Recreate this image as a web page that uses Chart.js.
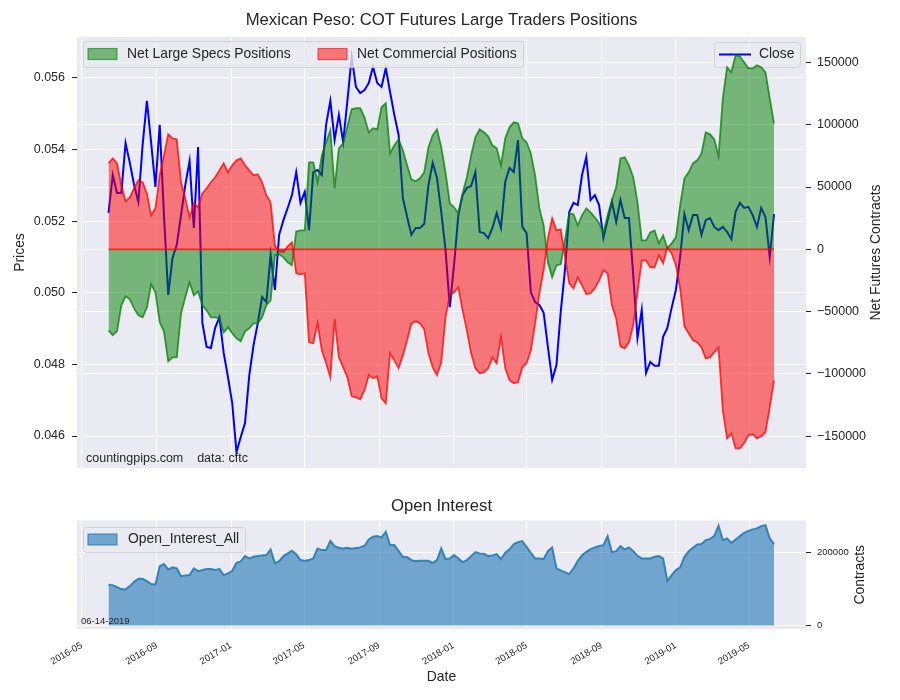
<!DOCTYPE html>
<html><head><meta charset="utf-8">
<script src="https://cdn.jsdelivr.net/npm/chart.js@4.4.0/dist/chart.umd.min.js"></script>
<style>
html,body{margin:0;padding:0;background:#fff;}
#wrap{position:relative;width:900px;height:700px;overflow:hidden;}
#c1{position:absolute;left:0;top:0;}
#c2{position:absolute;left:0;top:480px;}
</style></head><body>
<div id="wrap"><canvas id="c1" width="900" height="500"></canvas><canvas id="c2" width="900" height="220"></canvas></div>
<script>
const dates = [
'2016-06-14','2016-06-21','2016-06-28','2016-07-05','2016-07-12','2016-07-19','2016-07-26','2016-08-02','2016-08-09','2016-08-16',
'2016-08-23','2016-08-30','2016-09-06','2016-09-13','2016-09-20','2016-09-27','2016-10-04','2016-10-11','2016-10-18','2016-10-25',
'2016-11-01','2016-11-08','2016-11-15','2016-11-22','2016-11-29','2016-12-06','2016-12-13','2016-12-20','2016-12-27','2017-01-03',
'2017-01-10','2017-01-17','2017-01-24','2017-01-31','2017-02-07','2017-02-14','2017-02-21','2017-02-28','2017-03-07','2017-03-14',
'2017-03-21','2017-03-28','2017-04-04','2017-04-11','2017-04-18','2017-04-25','2017-05-02','2017-05-09','2017-05-16','2017-05-23',
'2017-05-30','2017-06-06','2017-06-13','2017-06-20','2017-06-27','2017-07-04','2017-07-11','2017-07-18','2017-07-25','2017-08-01',
'2017-08-08','2017-08-15','2017-08-22','2017-08-29','2017-09-05','2017-09-12','2017-09-19','2017-09-26','2017-10-03','2017-10-10',
'2017-10-17','2017-10-24','2017-10-31','2017-11-07','2017-11-14','2017-11-21','2017-11-28','2017-12-05','2017-12-12','2017-12-19',
'2017-12-26','2018-01-02','2018-01-09','2018-01-16','2018-01-23','2018-01-30','2018-02-06','2018-02-13','2018-02-20','2018-02-27',
'2018-03-06','2018-03-13','2018-03-20','2018-03-27','2018-04-03','2018-04-10','2018-04-17','2018-04-24','2018-05-01','2018-05-08',
'2018-05-15','2018-05-22','2018-05-29','2018-06-05','2018-06-12','2018-06-19','2018-06-26','2018-07-03','2018-07-10','2018-07-17',
'2018-07-24','2018-07-31','2018-08-07','2018-08-14','2018-08-21','2018-08-28','2018-09-04','2018-09-11','2018-09-18','2018-09-25',
'2018-10-02','2018-10-09','2018-10-16','2018-10-23','2018-10-30','2018-11-06','2018-11-13','2018-11-20','2018-11-27','2018-12-04',
'2018-12-11','2018-12-18','2018-12-25','2019-01-01','2019-01-08','2019-01-15','2019-01-22','2019-01-29','2019-02-05','2019-02-12',
'2019-02-19','2019-02-26','2019-03-05','2019-03-12','2019-03-19','2019-03-26','2019-04-02','2019-04-09','2019-04-16','2019-04-23',
'2019-04-30','2019-05-07','2019-05-14','2019-05-21','2019-05-28','2019-06-04','2019-06-11'];

const closePrices = [
0.05223,0.05329,0.05279,0.05279,0.05418,0.05363,0.05301,0.05254,0.05413,0.05536,
0.05418,0.05296,0.05469,0.05217,0.04994,0.05097,0.05134,0.05217,0.05301,0.05368,
0.05181,0.05407,0.04916,0.04849,0.04846,0.04902,0.04932,0.04832,0.04765,0.04692,
0.04555,0.04597,0.04636,0.04770,0.04854,0.04916,0.04988,0.04974,0.05106,0.05008,
0.05162,0.05203,0.05237,0.05273,0.05337,0.05251,0.05282,0.05175,0.05337,0.05343,
0.05329,0.05469,0.05536,0.05427,0.05497,0.05421,0.05536,0.05659,0.05575,0.05558,
0.05566,0.05586,0.05631,0.05586,0.05575,0.05628,0.05561,0.05497,0.05441,0.05265,
0.05212,0.05162,0.05181,0.05181,0.05192,0.05301,0.05363,0.05321,0.05226,0.05120,
0.04960,0.05078,0.05217,0.05273,0.05293,0.05298,0.05337,0.05170,0.05167,0.05153,
0.05181,0.05223,0.05181,0.05310,0.05349,0.05337,0.05427,0.05184,0.05167,0.05002,
0.04974,0.04966,0.04944,0.04849,0.04757,0.04798,0.04946,0.05064,0.05226,0.05251,
0.05245,0.05329,0.05379,0.05259,0.05273,0.05245,0.05153,0.05203,0.05254,0.05198,
0.05259,0.05209,0.05209,0.05050,0.04874,0.04952,0.04776,0.04807,0.04796,0.04796,
0.04877,0.04902,0.04958,0.05008,0.05100,0.05220,0.05175,0.05217,0.05217,0.05162,
0.05203,0.05209,0.05184,0.05175,0.05184,0.05170,0.05150,0.05226,0.05251,0.05237,
0.05240,0.05217,0.05184,0.05237,0.05212,0.05100,0.05220];

const netLargeSpecs = [
-65000,-69000,-65800,-44900,-37700,-40100,-47400,-53000,-54600,-46600,
-28100,-34500,-58600,-65800,-89900,-86700,-86700,-51400,-38500,-26500,
-36900,-33700,-44900,-49000,-54600,-54600,-55400,-66600,-62600,-67400,
-71400,-73800,-65800,-63400,-59400,-59400,-54600,-44900,-40900,-4800,
-4000,-6400,-10400,-12800,14400,15200,15200,69800,69800,53800,
75400,85900,95500,49000,81100,85100,98700,112400,113200,113200,
105900,93900,97100,96300,114000,117200,77000,83500,88300,79500,
67400,56200,54600,57000,61800,81900,91500,96300,81900,61800,
36900,33700,28900,44900,57800,75400,89900,96300,93900,90700,
83500,81100,67400,89100,97900,101900,101100,89100,85900,77000,
59400,32900,19300,-10400,-22500,-12800,-12000,7200,28900,28100,
19300,27300,32900,29700,25700,20900,13600,27300,39300,49800,
73000,73800,67400,57800,37700,7200,7200,13600,15200,4800,
11200,800,4800,9600,35300,57000,61800,69000,71400,77000,
93900,92300,88300,74600,121200,146100,142100,155700,154900,150100,
145300,145300,147700,146100,142100,121200,101100];

const netCommercial = [
69000,73000,69000,51400,38500,41700,49000,55400,53800,44900,
27300,32900,59400,75400,92300,89100,88300,53800,40900,25700,
36900,33700,44900,49000,53800,57800,63400,69000,61800,67400,
71400,73000,67400,63400,59400,60200,53800,43300,37700,3200,
-1600,-2400,2400,5600,-19300,-20100,-19300,-74600,-75400,-59400,
-81100,-91500,-102700,-56200,-86700,-94700,-102700,-118000,-118800,-120400,
-113200,-101100,-103500,-101900,-119600,-123600,-83500,-89100,-95500,-85100,
-73000,-59400,-57800,-59400,-64200,-83500,-94700,-101100,-90700,-54600,
-36900,-34500,-30500,-49000,-65000,-83500,-95500,-99500,-98700,-95500,
-86700,-91500,-70600,-95500,-105100,-107500,-106700,-94700,-91500,-81100,
-59400,-35300,-16900,8800,24900,15200,16100,-5600,-27300,-31300,
-22500,-28900,-36100,-35300,-31300,-24900,-16900,-19300,-44900,-55400,
-77900,-79500,-74600,-61000,-34500,-8800,-8800,-14400,-14400,-4800,
-11200,1600,-3200,-12800,-31300,-61800,-67400,-73000,-74600,-78700,
-87500,-86700,-82700,-78700,-129200,-151700,-147700,-159700,-159700,-155700,
-149300,-148500,-151700,-150100,-146900,-126800,-105100];

const openInterest = [
111900,111000,105500,100000,99200,108300,120100,128400,128400,122000,
113800,113000,163400,168900,154300,159800,157000,135800,137800,138600,
157000,149600,152400,155100,155100,152400,155900,138600,143300,150400,
172500,176300,190900,184600,189000,190900,192900,193700,209400,170800,
177100,190900,198400,205500,196400,179900,178000,179900,184600,212100,
207500,207500,233100,218500,213800,212100,213800,211000,213000,214900,
219300,236900,244100,246000,242400,257900,221200,221200,205500,189000,
188200,179900,177100,178000,178000,178000,172500,179900,212100,182700,
184600,193700,184600,174400,179900,190900,201900,198400,197300,190900,
192900,196400,182700,200000,209400,224000,229500,232200,216500,200000,
184600,184600,182700,204700,214900,157000,151500,146800,141300,157000,
178000,193700,202800,210200,214900,218500,221200,246000,201900,204700,
218500,209400,214900,204700,191700,184600,184600,184600,189000,190900,
184600,122900,138600,152400,159800,189000,204700,213800,223200,224000,
235000,237800,246800,274400,235000,239700,227600,236900,246000,255100,
260600,264500,267200,273600,276300,239700,224000];

const monthTicks = ['2016-05','2016-09','2017-01','2017-05','2017-09','2018-01','2018-05','2018-09','2019-01','2019-05'];
const priceTicks = [0.046,0.048,0.050,0.052,0.054,0.056];
const netTicks = [-150000,-100000,-50000,0,50000,100000,150000];
const oiTicks = [0,200000];

const DAY = 86400000;
function toDay(s){ const p = s.split('-').map(Number); return Date.UTC(p[0], p[1]-1, p[2] || 1) / DAY; }
const xs = dates.map(toDay);
const pts = arr => arr.map((v,i) => ({x: xs[i], y: v}));
const X_MIN = toDay('2016-04-23') + 0.3, X_MAX = toDay('2019-08-02') + 0.5;

const FONT = "'Liberation Sans', Arial, sans-serif";
const TXT = '#262626';
const BG = '#EAEAF2';

function txt(ctx, s, x, y, size, align, rot){
  ctx.save();
  ctx.font = size + 'px ' + FONT;
  ctx.fillStyle = TXT;
  ctx.textAlign = align || 'left';
  ctx.textBaseline = 'middle';
  ctx.translate(x, y);
  if (rot) ctx.rotate(rot);
  ctx.fillText(s, 0, 0);
  ctx.restore();
}
function legendBox(ctx, x, y, w, h){
  ctx.save();
  ctx.beginPath();
  if (ctx.roundRect) ctx.roundRect(x+0.5, y+0.5, w, h, 3); else ctx.rect(x+0.5, y+0.5, w, h);
  ctx.fillStyle = 'rgba(234,234,242,0.8)';
  ctx.fill();
  ctx.strokeStyle = 'rgba(204,204,204,0.8)';
  ctx.lineWidth = 1;
  ctx.stroke();
  ctx.restore();
}
function patch(ctx, x, y, w, h, fill, stroke){
  ctx.save();
  ctx.fillStyle = fill; ctx.fillRect(x, y, w, h);
  ctx.strokeStyle = stroke; ctx.lineWidth = 1.2; ctx.strokeRect(x, y, w, h);
  ctx.restore();
}
const bgPlugin = {
  id: 'bg',
  beforeDraw(chart){
    const a = chart.chartArea, ctx = chart.ctx;
    ctx.save(); ctx.fillStyle = BG; ctx.fillRect(a.left, a.top, a.right - a.left, a.bottom - a.top); ctx.restore();
  }
};
const monthTickBuilder = scale => { scale.ticks = monthTicks.map(m => ({value: toDay(m + '-01')})); };

const topDecor = {
  id: 'topDecor',
  afterDatasetDraw(chart, args){
    if (args.index !== 0) return;
    const ctx = chart.ctx;
    legendBox(ctx, 714, 42, 86, 25);
    ctx.save();
    ctx.strokeStyle = '#0000FF'; ctx.lineWidth = 2;
    ctx.beginPath(); ctx.moveTo(719, 54.5); ctx.lineTo(751, 54.5); ctx.stroke();
    ctx.restore();
    txt(ctx, 'Close', 759, 54.5, 13.9, 'left');
  },
  afterDatasetsDraw(chart){
    const ctx = chart.ctx, x = chart.scales.x, yN = chart.scales.yN;
    const y0 = yN.getPixelForValue(0);
    ctx.save();
    ctx.strokeStyle = 'rgba(255,0,0,0.75)'; ctx.lineWidth = 1.8;
    ctx.beginPath(); ctx.moveTo(x.getPixelForValue(xs[0]), y0); ctx.lineTo(x.getPixelForValue(xs[xs.length-1]), y0); ctx.stroke();
    ctx.restore();
    legendBox(ctx, 83, 41, 440, 26);
    patch(ctx, 88, 48.5, 29, 11, 'rgba(0,128,0,0.5)', 'rgba(0,128,0,0.6)');
    txt(ctx, 'Net Large Specs Positions', 127, 54.5, 13.9, 'left');
    patch(ctx, 318, 48.5, 29, 11, 'rgba(255,0,0,0.5)', 'rgba(255,0,0,0.6)');
    txt(ctx, 'Net Commercial Positions', 357, 54.5, 13.9, 'left');
    txt(ctx, 'countingpips.com    data: cftc', 86, 459, 12.5, 'left');
  },
  afterDraw(chart){
    const ctx = chart.ctx, a = chart.chartArea;
    txt(ctx, 'Mexican Peso: COT Futures Large Traders Positions', (a.left + a.right)/2, 20, 16.7, 'center');
    txt(ctx, 'Prices', 20, (a.top + a.bottom)/2, 13.9, 'center', -Math.PI/2);
    txt(ctx, 'Net Futures Contracts', 876, (a.top + a.bottom)/2, 13.9, 'center', -Math.PI/2);
  }
};

const bottomDecor = {
  id: 'bottomDecor',
  afterDatasetsDraw(chart){
    const ctx = chart.ctx;
    legendBox(ctx, 83, 47, 162, 25);
    patch(ctx, 88, 54, 29, 11, 'rgba(31,119,180,0.6)', 'rgba(31,119,180,0.7)');
    txt(ctx, 'Open_Interest_All', 128, 59.5, 13.9, 'left');
    txt(ctx, '06-14-2019', 81, 141, 9.5, 'left');
  },
  afterDraw(chart){
    const ctx = chart.ctx, a = chart.chartArea;
    txt(ctx, 'Open Interest', (a.left + a.right)/2, 26, 16.7, 'center');
    txt(ctx, 'Contracts', 860, (a.top + a.bottom)/2, 13.9, 'center', -Math.PI/2);
    txt(ctx, 'Date', (a.left + a.right)/2, 197, 13.9, 'center');
  }
};

const gridWhite = {color: '#FFFFFF', lineWidth: 1, drawTicks: false};

new Chart(document.getElementById('c1'), {
  type: 'line',
  data: { datasets: [
    {label: 'Close', data: pts(closePrices), yAxisID: 'yP', borderColor: '#0000FF', borderWidth: 2, pointRadius: 0, fill: false, tension: 0, order: 3},
    {label: 'Net Large Specs Positions', data: pts(netLargeSpecs), yAxisID: 'yN', borderColor: 'rgba(0,128,0,0.75)', backgroundColor: 'rgba(0,128,0,0.5)', borderWidth: 1.8, pointRadius: 0, fill: 'origin', tension: 0, order: 2},
    {label: 'Net Commercial Positions', data: pts(netCommercial), yAxisID: 'yN', borderColor: 'rgba(255,0,0,0.75)', backgroundColor: 'rgba(255,0,0,0.5)', borderWidth: 1.8, pointRadius: 0, fill: 'origin', tension: 0, order: 1}
  ]},
  options: {
    responsive: false, animation: false, events: [],
    layout: {padding: {top: 37, left: 0, right: 0, bottom: 0}},
    plugins: {legend: {display: false}, tooltip: {enabled: false}, title: {display: false}},
    scales: {
      x: {type: 'linear', position: 'bottom', min: X_MIN, max: X_MAX,
          afterBuildTicks: monthTickBuilder, afterFit(s){ s.height = 32; },
          ticks: {display: false}, grid: gridWhite, border: {display: false}},
      yP: {type: 'linear', position: 'left', min: 0.045107, max: 0.057145,
          afterBuildTicks(s){ s.ticks = priceTicks.map(v => ({value: v})); }, afterFit(s){ s.width = 77; },
          ticks: {callback: v => v.toFixed(3), font: {family: FONT, size: 12.5}, color: TXT, padding: 7},
          grid: {color: '#FFFFFF', lineWidth: 1, tickColor: TXT, tickLength: 5, drawTicks: true}, border: {display: false}},
      yN: {type: 'linear', position: 'right', min: -175500, max: 170400,
          afterBuildTicks(s){ s.ticks = netTicks.map(v => ({value: v})); }, afterFit(s){ s.width = 94; },
          ticks: {callback: v => v < 0 ? '\u2212' + Math.abs(v) : String(v), font: {family: FONT, size: 12.5}, color: TXT, padding: 6},
          grid: {color: '#FFFFFF', lineWidth: 1, tickColor: TXT, tickLength: 5, drawTicks: true}, border: {display: false}}
    }
  },
  plugins: [bgPlugin, topDecor]
});

new Chart(document.getElementById('c2'), {
  type: 'line',
  data: { datasets: [
    {label: 'Open_Interest_All', data: pts(openInterest), yAxisID: 'yO', borderColor: 'rgba(31,119,180,0.85)', backgroundColor: 'rgba(31,119,180,0.6)', borderWidth: 2, pointRadius: 0, fill: 'origin', tension: 0}
  ]},
  options: {
    responsive: false, animation: false, events: [],
    layout: {padding: {top: 40.5, left: 77, right: 0, bottom: 0}},
    plugins: {legend: {display: false}, tooltip: {enabled: false}, title: {display: false}},
    scales: {
      x: {type: 'linear', position: 'bottom', min: X_MIN, max: X_MAX,
          afterBuildTicks: monthTickBuilder, afterFit(s){ s.height = 71; },
          ticks: {callback: (v, i) => monthTicks[i], autoSkip: false, minRotation: 30, maxRotation: 30,
                  font: {family: FONT, size: 9.5}, color: TXT, padding: 11},
          grid: gridWhite, border: {display: false}},
      yO: {type: 'linear', position: 'right', min: -9900, max: 289000,
          afterBuildTicks(s){ s.ticks = oiTicks.map(v => ({value: v})); }, afterFit(s){ s.width = 94; },
          ticks: {callback: v => String(v), font: {family: FONT, size: 9.5}, color: TXT, padding: 6},
          grid: {color: '#FFFFFF', lineWidth: 1, tickColor: TXT, tickLength: 5, drawTicks: true}, border: {display: false}}
    }
  },
  plugins: [bgPlugin, bottomDecor]
});
</script>
</body></html>
